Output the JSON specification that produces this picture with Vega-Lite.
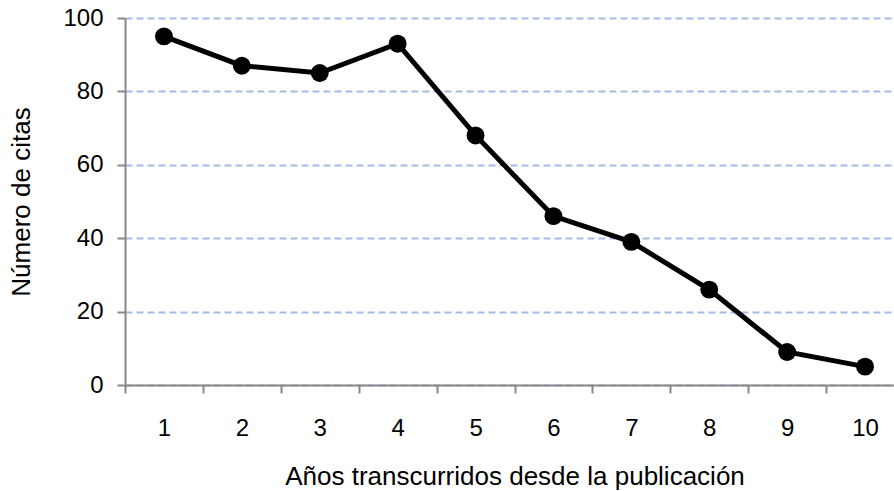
{
  "$schema": "https://vega.github.io/schema/vega-lite/v6.json",
  "autosize": "none",
  "width": 769,
  "height": 367,
  "padding": {"left": 125, "top": 18, "right": 0, "bottom": 106},
  "background": "white",
  "config": {
    "view": {"stroke": null},
    "font": "Liberation Sans",
    "axis": {"labelFont": "Liberation Sans", "titleFont": "Liberation Sans", "labelFontSize": 24, "titleFontSize": 26, "labelColor": "black", "titleColor": "black", "titleFontWeight": "normal", "domainColor": "#888888", "tickColor": "#888888", "domainWidth": 2, "tickWidth": 2}
  },
  "data": {"values": [
    {"anio": "1", "citas": 95},
    {"anio": "2", "citas": 87},
    {"anio": "3", "citas": 85},
    {"anio": "4", "citas": 93},
    {"anio": "5", "citas": 68},
    {"anio": "6", "citas": 46},
    {"anio": "7", "citas": 39},
    {"anio": "8", "citas": 26},
    {"anio": "9", "citas": 9},
    {"anio": "10", "citas": 5}
  ]},
  "encoding": {
    "x": {"field": "anio", "type": "ordinal", "sort": null, "bandPosition": 0.5,
      "scale": {"type": "band", "paddingInner": 0, "paddingOuter": 0, "range": [0, 779]},
      "axis": {"title": "Años transcurridos desde la publicación", "labelAngle": 0, "tickBand": "extent", "tickSize": 8, "labelPadding": 23, "titlePadding": 23, "grid": false}},
    "y": {"field": "citas", "type": "quantitative",
      "scale": {"domain": [0, 100], "nice": false},
      "axis": {"title": "Número de citas", "values": [0, 20, 40, 60, 80, 100], "tickSize": 8, "labelPadding": 14, "titlePadding": 28, "grid": true, "gridColor": "#a4bbe6", "gridDash": [7, 4], "gridWidth": 2}}
  },
  "layer": [
    {"mark": {"type": "line", "color": "black", "strokeWidth": 5}},
    {"mark": {"type": "point", "filled": true, "color": "black", "opacity": 1, "size": 320}}
  ]
}
